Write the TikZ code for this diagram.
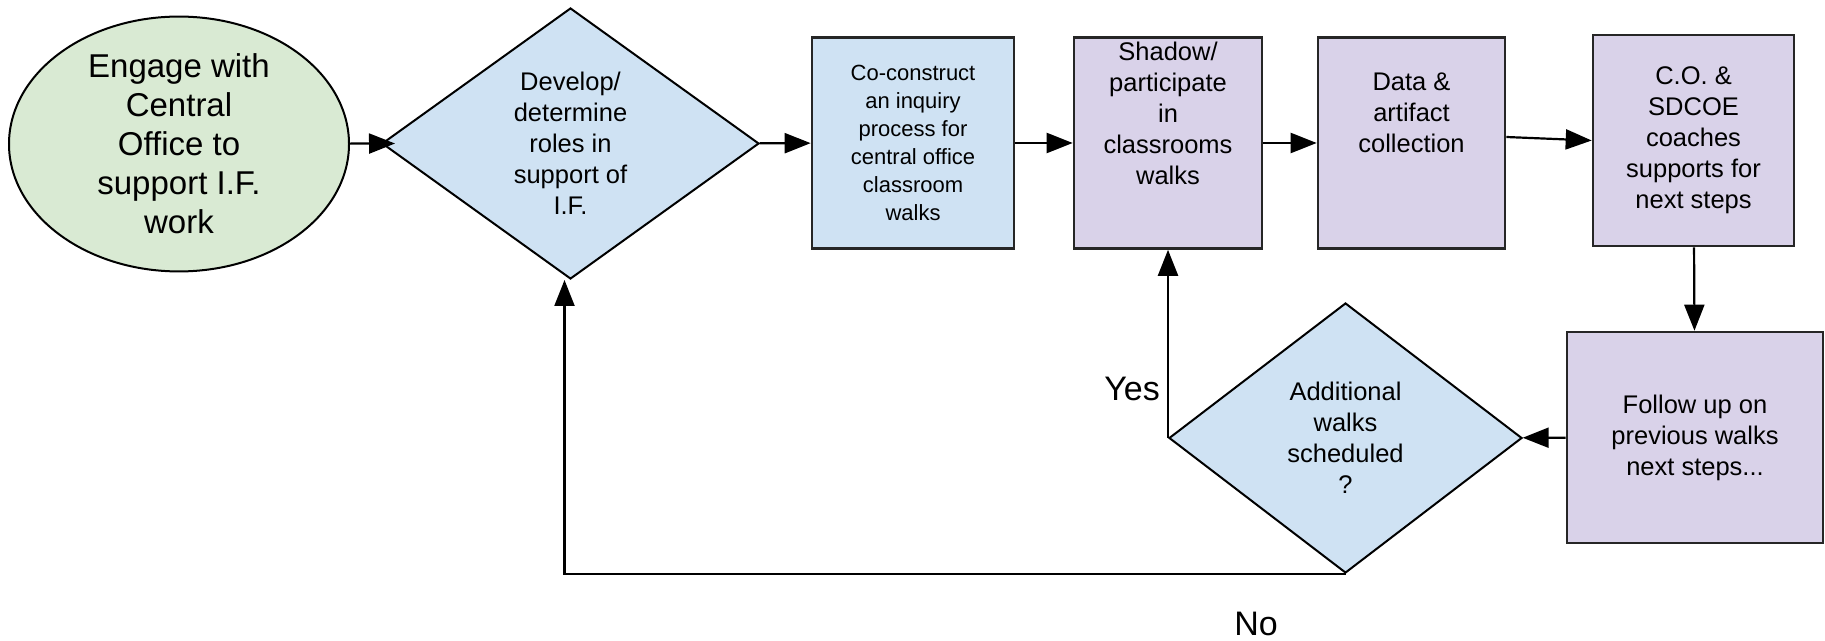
\documentclass[tikz,border=0pt]{standalone}
\usepackage{fontspec}
\setmainfont{Liberation Sans}
\usetikzlibrary{shapes.geometric,arrows.meta}

\definecolor{startgreen}{HTML}{D9EAD3}
\definecolor{stepblue}{HTML}{CFE2F3}
\definecolor{steppurple}{HTML}{D9D2E9}

\begin{document}
\begin{tikzpicture}[x=0.5pt,y=-0.5pt,
  txt/.style={font=\fontsize{12.75pt}{15.5pt}\selectfont,align=center},
  start/.style={ellipse,draw,line width=1pt,fill=startgreen,inner sep=0pt,
    minimum width=170pt,minimum height=127pt,align=center,
    font=\fontsize{16.5pt}{19.5pt}\selectfont},
  choice/.style={diamond,draw,line width=1pt,fill=stepblue,inner sep=1pt,txt},
  stepbox/.style={rectangle,draw=black!85,line width=1.3pt,inner sep=1pt,
    minimum height=105.5pt,txt},
  flow/.style={line width=1.1pt,-{Triangle[length=13pt,width=10pt]}},
  answer/.style={inner sep=0pt,font=\fontsize{17pt}{20pt}\selectfont}]

\useasboundingbox (0,0) rectangle (1825,641);

% top row
\node[start] (engage) at (179,144) {Engage with\\Central\\Office to\\support I.F.\\work};
\node[choice,minimum width=188.5pt,minimum height=135.5pt] (roles) at (570.5,143.5)
  {Develop/\\determine\\roles in\\support of\\I.F.};
\node[stepbox,fill=stepblue,minimum width=101pt,font=\fontsize{11pt}{14pt}\selectfont]
  (inquiry) at (913,143) {Co-construct\\an inquiry\\process for\\central office\\classroom\\walks};

\node[stepbox,fill=steppurple,minimum width=94pt] (shadow) at (1168,143) {};
\node[txt] (shadowtext) at (1168,113) {Shadow/\\participate\\in\\classrooms\\walks};

\node[stepbox,fill=steppurple,minimum width=93.5pt] (collect) at (1411.5,143) {};
\node[txt] (collecttext) at (1411.5,113) {Data \&\\artifact\\collection};

\node[stepbox,fill=steppurple,minimum width=100.5pt] (coaches) at (1693.5,140.5)
  {C.O. \&\\SDCOE\\coaches\\supports for\\next steps};

% bottom row
\node[stepbox,fill=steppurple,minimum width=128pt] (followup) at (1695,437.5)
  {Follow up on\\previous walks\\next steps...};
\node[choice,minimum width=176.5pt,minimum height=135pt] (more) at (1345.5,438)
  {Additional\\walks\\scheduled\\?};

\node[answer] (yes) at (1132,389) {Yes};
\node[answer] (no) at (1256,624) {No};

% connectors
\draw[flow] (engage) -- ([xshift=7pt]roles.west);
\draw[flow] (roles) -- (inquiry);
\draw[flow] (inquiry) -- (shadow);
\draw[flow] (shadow) -- (collect);
\draw[flow] ([yshift=3pt]collect.east) -- (coaches.west);
\draw[flow] (coaches) -- (followup);
\draw[flow] (followup) -- (more);
\draw[flow] (more.west) -- (more.west |- shadow.south);
\draw[flow] (more.south) -| ([xshift=-3pt]roles.south);
\end{tikzpicture}
\end{document}
